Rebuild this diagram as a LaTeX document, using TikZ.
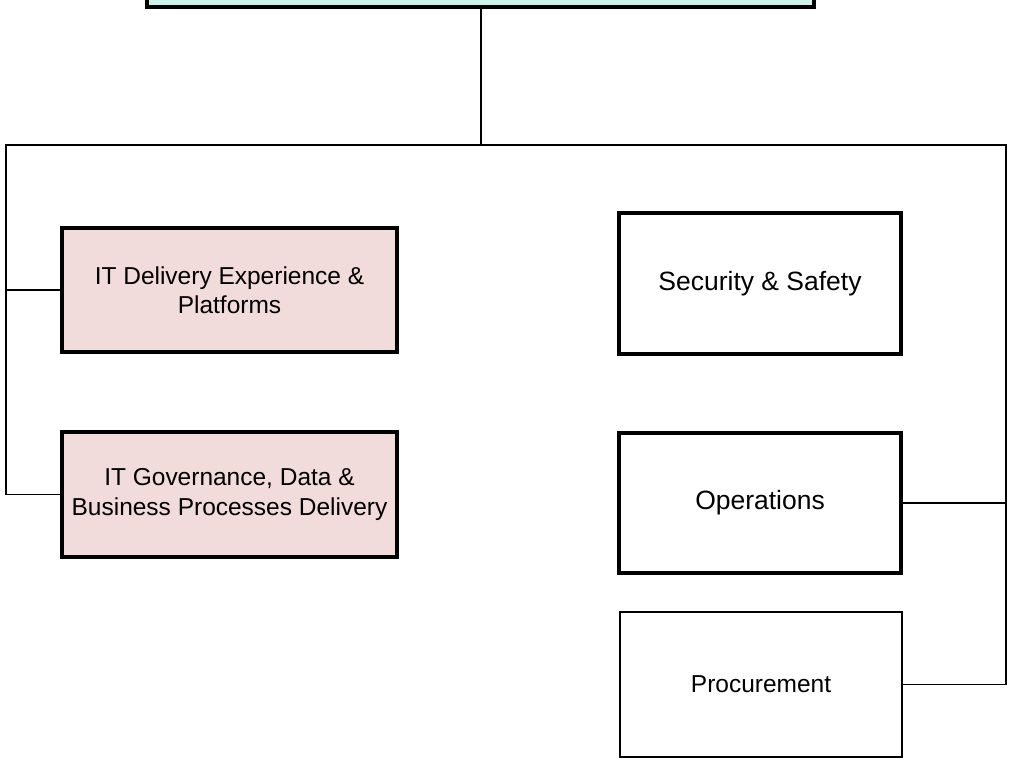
\documentclass[tikz,border=0pt]{standalone}
\usepackage{fontspec}
\setmainfont{Liberation Sans}
\usepackage{xcolor}
\usepackage{tikz}
\usetikzlibrary{positioning,calc}
\definecolor{headfill}{RGB}{206,242,236}
\definecolor{itfill}{RGB}{242,220,219}

\begin{document}
\begin{tikzpicture}
    [   x = 0.03cm
    ,   y = -0.03cm
    ,   unit/.style=
        {   draw
        ,   rectangle
        ,   line width = 3pt
        ,   align = center
        ,   inner sep = 0pt
        ,   minimum width = 8.46cm
        ,   font = \fontsize{22.6}{27}\selectfont
        }
    ,   itunit/.style=
        {   unit
        ,   fill = itfill
        ,   minimum width = 10.05cm
        ,   font = \fontsize{20.9}{25}\selectfont
        }
    ,   thinunit/.style=
        {   unit
        ,   line width = 1.3pt
        ,   font = \fontsize{20.9}{25}\selectfont
        }
    ,   link/.style = {line width = 1.45pt}
    ]
    \clip (0,0) rectangle (1010,758);
    \useasboundingbox (0,0) rectangle (1010,758);
    \node[unit, fill=headfill, minimum width=20.01cm, minimum height=3cm] (head) at (480.5,-43) {};
    \node[itunit, minimum height=3.72cm] (delivery) at (229.5,290) {IT Delivery Experience \&\\Platforms};
    \node[itunit, minimum height=3.75cm] (governance) at (229.5,494.5) {IT Governance, Data \&\\Business Processes Delivery};
    \node[unit, minimum height=4.23cm] (security) at (760,283.5) {Security \& Safety};
    \node[unit, minimum height=4.2cm] (operations) at (760,503) {Operations};
    \node[thinunit, minimum height=4.35cm] (procurement) at (761,684.5) {Procurement};
    \coordinate (busL) at (6,145);
    \coordinate (busM) at (481,145);
    \coordinate (busR) at (1006,145);
    \draw[link] (head.south -| busM) -- (busM);
    \draw[link] (governance.west) -| (busL) -- (busR) |- (procurement.east);
    \draw[link] (delivery.west) -- (delivery.west -| busL);
    \draw[link] (operations.east) -- (operations.east -| busR);
\end{tikzpicture}
\end{document}
